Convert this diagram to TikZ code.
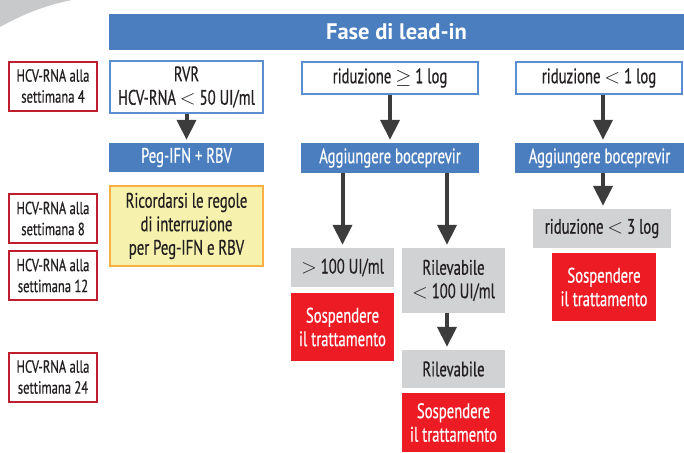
\documentclass[tikz,border=0pt]{standalone}
\usepackage{fontspec}
\setmainfont{PT Sans}[FakeStretch=0.70, FakeBold=0.5]
\newfontfamily\weekfont{PT Sans}[FakeStretch=0.72, FakeBold=0.5]
\newfontfamily\titlefont{PT Sans}[FakeStretch=1.0]
\usetikzlibrary{arrows.meta}

\definecolor{bandblue}{HTML}{4A7EBF}
\definecolor{edgeblue}{HTML}{5B8FD0}
\definecolor{stopred}{HTML}{ED1C24}
\definecolor{weekred}{HTML}{BE1E2D}
\definecolor{condgray}{HTML}{D1D2D4}
\definecolor{notefill}{HTML}{F6F2AE}
\definecolor{noteedge}{HTML}{F9B042}
\definecolor{inkdark}{HTML}{231F20}
\definecolor{arrowgray}{HTML}{3C3C3C}
\definecolor{cornergray}{HTML}{C8C9CB}

\tikzset{
  box/.style={inner sep=0pt, align=center, text=inkdark,
    font=\fontsize{21}{23.5}\selectfont},
  weekbox/.style={box, draw=weekred, line width=2pt, fill=white,
    minimum width=88pt, minimum height=49pt, font=\weekfont\fontsize{17.5}{21}\selectfont},
  condbox/.style={box, draw=edgeblue, line width=1.8pt, fill=white},
  actbox/.style={box, fill=bandblue, text=white},
  graybox/.style={box, fill=condgray},
  stopbox/.style={box, fill=stopred, text=white},
  notebox/.style={box, fill=notefill, draw=noteedge, line width=2pt},
  flow/.style={draw=arrowgray, line width=4pt, shorten >=3pt,
    -{Triangle[width=19pt,length=20pt]}}
}

\begin{document}
\begin{tikzpicture}[x=1pt, y=-1pt]
\useasboundingbox (0,0) rectangle (684,452);

% corner swoosh
\fill[cornergray] (0,0) -- (0,27) .. controls (20,16) and (42,6) .. (72,0) -- cycle;

% header band
\node[actbox, minimum width=575pt, minimum height=36pt,
  font=\titlefont\bfseries\fontsize{22.5}{26}\selectfont] (title) at (396.5,32) {Fase di lead-in};

% week labels
\node[weekbox] (w4)  at (53,86)    {HCV-RNA alla\\settimana 4};
\node[weekbox] (w8)  at (53,218.5) {HCV-RNA alla\\settimana 8};
\node[weekbox] (w12) at (53,275.5) {HCV-RNA alla\\settimana 12};
\node[weekbox] (w24) at (53,377)   {HCV-RNA alla\\settimana 24};

% RVR branch
\node[condbox, minimum width=153pt, minimum height=52pt] (rvr) at (186.5,87)
  {RVR\\HCV-RNA $<$ 50 UI/ml};
\node[actbox, minimum width=155pt, minimum height=29pt] (peg) at (186.5,157.5)
  {Peg-IFN + RBV};
\node[notebox, minimum width=153pt, minimum height=80pt] (note) at (186.5,226)
  {Ricordarsi le regole\\di interruzione\\per Peg-IFN e RBV};

% reduction >= 1 log branch
\node[condbox, minimum width=176pt, minimum height=32pt] (rid1) at (390,78)
  {riduzione $\geq$ 1 log};
\node[actbox, minimum width=178pt, minimum height=30pt] (agg1) at (390,158)
  {Aggiungere boceprevir};
\node[graybox, minimum width=103pt, minimum height=39pt] (gt100) at (342.5,267.5)
  {$>$ 100 UI/ml};
\node[stopbox, minimum width=103pt, minimum height=68pt] (stop1) at (342.5,327)
  {Sospendere\\il trattamento};
\node[graybox, minimum width=103pt, minimum height=65pt] (ril100) at (453.5,280.5)
  {Rilevabile\\$<$ 100 UI/ml};
\node[graybox, minimum width=103pt, minimum height=38pt] (ril) at (453.5,369)
  {Rilevabile};
\node[stopbox, minimum width=103pt, minimum height=59pt] (stop2) at (453.5,422.5)
  {Sospendere\\il trattamento};

% reduction < 1 log branch
\node[condbox, minimum width=166pt, minimum height=32pt] (rid2) at (599,78)
  {riduzione $<$ 1 log};
\node[actbox, minimum width=169pt, minimum height=30pt] (agg2) at (599.5,158)
  {Aggiungere boceprevir};
\node[graybox, minimum width=138pt, minimum height=39pt] (rid3) at (602,228.5)
  {riduzione $<$ 3 log};
\node[stopbox, minimum width=104pt, minimum height=68pt] (stop3) at (604,287)
  {Sospendere\\il trattamento};

% connectors
\draw[flow] (rvr.south) -- (peg.north);
\draw[flow] (rid1.south) -- (agg1.north);
\draw[flow] ([xshift=4pt]rid2.south) -- ([xshift=3.5pt]agg2.north);
\draw[flow] (agg1.south -| gt100.north) -- (gt100.north);
\draw[flow] (agg1.south -| 447,0) -- (ril100.north -| 447,0);
\draw[flow] (ril100.south -| 447,0) -- (ril.north -| 447,0);
\draw[flow] ([xshift=3.5pt]agg2.south) -- (rid3.north -| 603,0);
\end{tikzpicture}
\end{document}
